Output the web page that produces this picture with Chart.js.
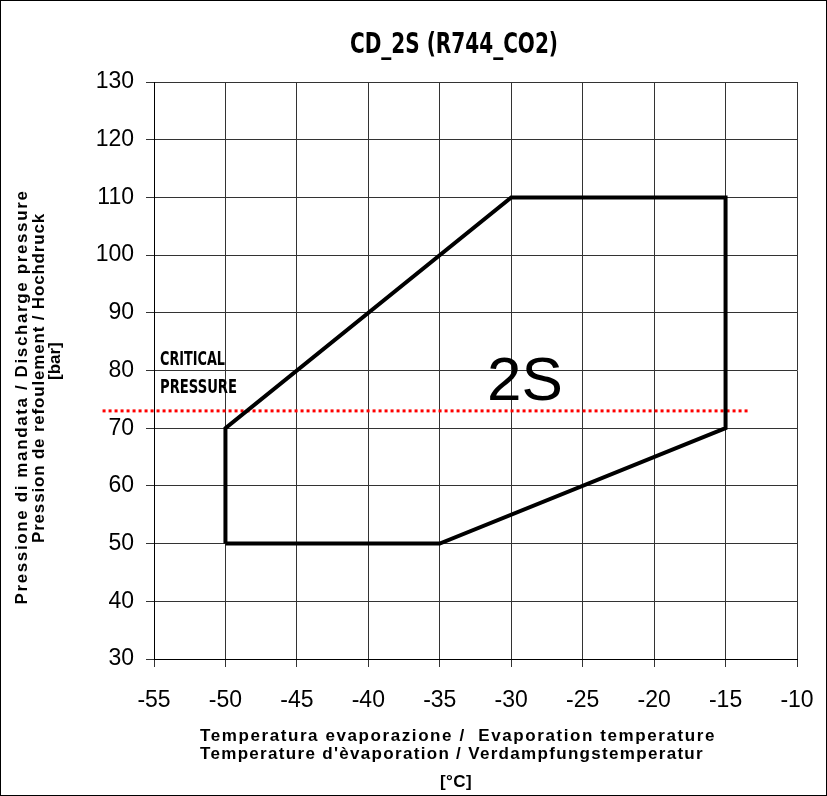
<!DOCTYPE html>
<html>
<head>
<meta charset="utf-8">
<script src="https://cdn.jsdelivr.net/npm/chart.js@4.4.1/dist/chart.umd.min.js"></script>
<style>
  html, body { margin: 0; padding: 0; background: #fff; }
  #wrap { position: relative; width: 827px; height: 796px; box-sizing: border-box; border: 1px solid #000; }
  canvas { position: absolute; left: -1px; top: -1px; }
</style>
</head>
<body>
<div id="wrap"><canvas id="chart" width="827" height="796"></canvas></div>
<script>
// envelope of the compressor (evaporation temp / discharge pressure)
const envelopeT = [-50, -35, -15, -15, -30, -50, -50];
const envelopeP = [50, 50, 70, 110, 110, 70, 50];

// critical pressure line
const criticalT = [-58.6, -13.4];
const criticalP = [73, 73];

const xTicks = [-55, -50, -45, -40, -35, -30, -25, -20, -15, -10];
const yTicks = [30, 40, 50, 60, 70, 80, 90, 100, 110, 120, 130];

const chartTitle = 'CD_2S (R744_CO2)';
const xTitle = ['Temperatura evaporazione /  Evaporation temperature', "Temperature d'èvaporation / Verdampfungstemperatur", '[°C]'];
const yTitle = ['Pressione di mandata / Discharge pressure', 'Pression de refoulement / Hochdruck', '[bar]'];
const critLabel = ['CRITICAL', 'PRESSURE'];
const modelLabel = '2S';

const toPoints = (xs, ys) => xs.map((x, i) => ({ x: x, y: ys[i] }));

const narrow = '"DejaVu Sans Condensed", "DejaVu Sans", sans-serif';
const arial = '"Liberation Sans", Arial, sans-serif';

// squeeze a condensed label into the width it has in the picture
function squeezeText(ctx, text, left, baseline, width) {
  const w = ctx.measureText(text).width;
  ctx.save();
  ctx.translate(left, baseline);
  ctx.scale(width / w, 1);
  ctx.textAlign = 'left';
  ctx.fillText(text, 0, 0);
  ctx.restore();
}

// text centered on cx, opened up with letter spacing to the picture's width
function spacedText(ctx, text, cx, baseline, width) {
  ctx.save();
  ctx.letterSpacing = '0px';
  const w = ctx.measureText(text).width;
  const sp = Math.max(0, (width - w) / text.length);
  ctx.letterSpacing = sp + 'px';
  ctx.textAlign = 'left';
  ctx.fillText(text, cx - width / 2, baseline);
  ctx.restore();
}

// draws title, axis titles and the labels inside the plot
const textPlugin = {
  id: 'texts',
  afterDraw(chart) {
    const ctx = chart.ctx;
    ctx.save();
    ctx.fillStyle = '#000';
    ctx.textBaseline = 'alphabetic';

    // title
    ctx.font = 'bold 28px ' + narrow;
    squeezeText(ctx, chartTitle, 350, 53, 208);

    // x axis title
    ctx.font = 'bold 17px ' + arial;
    spacedText(ctx, xTitle[0], 458, 741, 516);
    spacedText(ctx, xTitle[1], 452, 759, 504);
    spacedText(ctx, xTitle[2], 456, 787, 32);

    // y axis title
    ctx.save();
    ctx.translate(0, 397);
    ctx.rotate(-Math.PI / 2);
    spacedText(ctx, yTitle[0], 0, 27, 415);
    ctx.restore();
    ctx.save();
    ctx.translate(0, 378);
    ctx.rotate(-Math.PI / 2);
    spacedText(ctx, yTitle[1], 0, 44, 330);
    ctx.restore();
    ctx.save();
    ctx.translate(0, 364);
    ctx.rotate(-Math.PI / 2);
    spacedText(ctx, yTitle[2], 0, 60, 32);
    ctx.restore();

    // critical pressure label
    ctx.font = 'bold 20px ' + narrow;
    squeezeText(ctx, critLabel[0], 160, 365, 65);
    squeezeText(ctx, critLabel[1], 160, 393, 77);

    // model label
    ctx.font = '62px ' + arial;
    ctx.textAlign = 'left';
    ctx.fillText(modelLabel, 487, 400);
    ctx.restore();
  }
};

new Chart(document.getElementById('chart').getContext('2d'), {
  type: 'scatter',
  data: {
    datasets: [
      {
        label: 'envelope',
        data: toPoints(envelopeT, envelopeP),
        showLine: true,
        borderColor: '#000',
        borderWidth: 4,
        pointRadius: 0,
        tension: 0,
        fill: false
      },
      {
        label: 'critical',
        data: toPoints(criticalT, criticalP),
        showLine: true,
        borderColor: '#ff0000',
        borderWidth: 3,
        borderDash: [3, 3],
        pointRadius: 0,
        clip: false
      }
    ]
  },
  options: {
    responsive: false,
    animation: false,
    layout: { padding: { top: 82, right: 30, left: 0, bottom: 0 } },
    plugins: {
      legend: { display: false },
      tooltip: { enabled: false }
    },
    scales: {
      x: {
        type: 'linear',
        min: -55,
        max: -10,
        afterBuildTicks: s => { s.ticks = xTicks.map(v => ({ value: v })); },
        afterFit: s => { s.height = 137; s.paddingLeft = 0; s.paddingRight = 0; },
        grid: { color: '#333', lineWidth: 1, tickLength: 8 },
        border: { color: '#000' },
        ticks: {
          color: '#000',
          padding: 20,
          maxRotation: 0,
          font: { family: arial, size: 23 }
        }
      },
      y: {
        type: 'linear',
        min: 30,
        max: 130,
        afterBuildTicks: s => { s.ticks = yTicks.map(v => ({ value: v })); },
        afterFit: s => { s.width = 154; s.paddingTop = 0; s.paddingBottom = 0; },
        grid: { color: '#333', lineWidth: 1, tickLength: 8 },
        border: { color: '#000' },
        ticks: {
          color: '#000',
          padding: 12,
          font: { family: arial, size: 23 }
        }
      }
    }
  },
  plugins: [textPlugin]
});
</script>
</body>
</html>
